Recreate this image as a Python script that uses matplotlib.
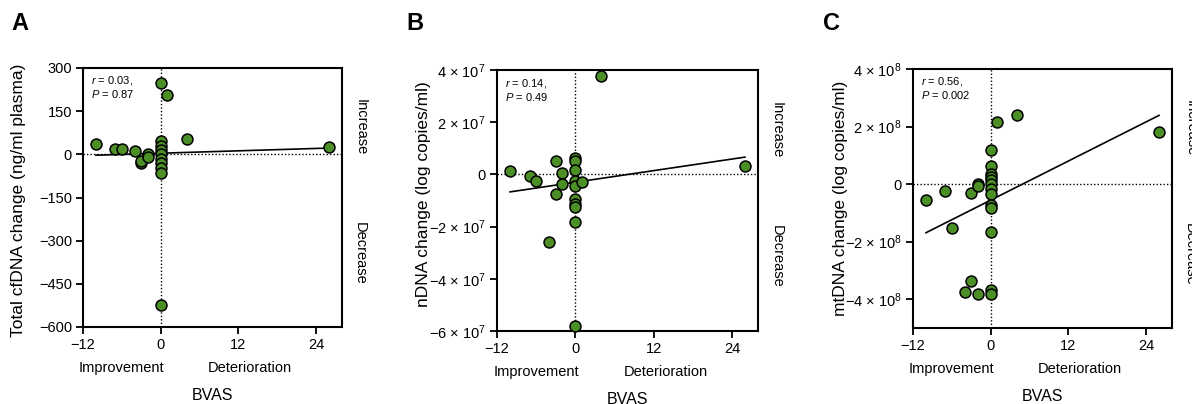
import matplotlib
matplotlib.use("Agg")
import matplotlib.pyplot as plt
import numpy as np
from matplotlib.ticker import FixedLocator, FuncFormatter

plt.rcParams['font.family'] = ['Liberation Sans', 'DejaVu Sans']
plt.rcParams['mathtext.fontset'] = 'custom'
plt.rcParams['mathtext.rm'] = 'Liberation Sans'
plt.rcParams['mathtext.it'] = 'Liberation Sans:italic'

# BVAS change and DNA change per patient
bvas_a = [-10, -7, -6, -4, -3, -3, -2, -2, 0, 0, 0, 0, 0, 0, 0, 0, 0, 0, 1, 4, 26]
cfdna = [37, 17, 20, 12, -30, -22, 0, -10, 248, 47, 29, 15, 0, -16, -31, -46, -66, -525, 206, 53, 25]

bvas_b = [-10, -7, -6, -4, -3, -3, -2, -2, 0, 0, 0, 0, 0, 0, 0, 0, 0, 0, 1, 4, 26]
ndna = [1.2e6, -0.5e6, -2.7e6, -26e6, 5.3e6, -7.4e6, 0.5e6, -3.5e6,
        6.2e6, 5.0e6, 1.6e6, -2.5e6, -4.5e6, -9.3e6, -11.5e6, -12.3e6, -18.2e6, -58e6,
        -3.1e6, 37.7e6, 3.1e6]

bvas_c = [-10, -7, -6, -4, -3, -3, -2, -2, -2, 0, 0, 0, 0, 0, 0, 0, 0, 0, 0, 0, 0, 0, 1, 4, 26]
mtdna = [-5.4e7, -2.5e7, -1.53e8, -3.76e8, -3.1e7, -3.37e8, 0, -0.8e7, -3.81e8,
         1.2e8, 6.4e7, 3.6e7, 2.4e7, 1.3e7, 0, -1.6e7, -3.5e7, -7.4e7, -8.2e7, -1.66e8, -3.67e8, -3.82e8,
         2.15e8, 2.41e8, 1.81e8]

# linear fit lines as drawn (slope, intercept)
fit_a = (0.69, 3.9)
fit_b = (0.37e6, -3.0e6)
fit_c = (1.133e7, -0.557e8)

stats_a = ('0.03', '0.87')
stats_b = ('0.14', '0.49')
stats_c = ('0.56', '0.002')

yticks_a = [300, 150, 0, -150, -300, -450, -600]
yticks_b = [4e7, 2e7, 0, -2e7, -4e7, -6e7]
yticks_c = [4e8, 2e8, 0, -2e8, -4e8]
xticks = [-12, 0, 12, 24]

green = '#4b8f26'


def sci_fmt(exp):
    def f(v, pos):
        if v == 0:
            return '0'
        m = v / 10 ** exp
        sign = '\u2212' if m < 0 else ''
        return f'{sign}{abs(m):.0f} \u00d7 10$^{{{exp}}}$'
    return f


def plain_fmt(v, pos):
    return f'{v:.0f}'.replace('-', '\u2212')


fig = plt.figure(figsize=(11.92, 4.04), dpi=100)

panels = [
    ([83 / 1192, 77 / 404, 259 / 1192, 259 / 404], bvas_a, cfdna, fit_a, stats_a, yticks_a, (-600, 300),
     plain_fmt, 'Total cfDNA change (ng/ml plasma)', (-0.22, 0.49), 'A', 20),
    ([497 / 1192, 73 / 404, 261 / 1192, 261 / 404], bvas_b, ndna, fit_b, stats_b, yticks_b, (-6e7, 4e7),
     sci_fmt(7), 'nDNA change (log copies/ml)', (-0.253, 0.525), 'B', 415),
    ([913 / 1192, 76 / 404, 259 / 1192, 259 / 404], bvas_c, mtdna, fit_c, stats_c, yticks_c, (-5e8, 4e8),
     sci_fmt(8), 'mtDNA change (log copies/ml)', (-0.251, 0.50), 'C', 832),
]

for rect, xs, ys, fit, stats, yt, ylim, fmt, ylab, ylab_pos, letter, lx in panels:
    ax = fig.add_axes(rect)
    ax.set_xlim(-12, 28)
    ax.set_ylim(*ylim)
    ax.axhline(0, color='black', ls=(0, (1, 1.5)), lw=1, zorder=1)
    ax.axvline(0, color='black', ls=(0, (1, 1.5)), lw=1, zorder=1)

    xx = np.array([min(xs), max(xs)])
    ax.plot(xx, fit[0] * xx + fit[1], color='black', lw=1.2, zorder=2)
    ax.scatter(xs, ys, s=62, facecolor=green, edgecolor='black', linewidth=1.1, zorder=3, clip_on=False)

    ax.xaxis.set_major_locator(FixedLocator(xticks))
    ax.xaxis.set_major_formatter(FuncFormatter(plain_fmt))
    ax.yaxis.set_major_locator(FixedLocator(yt))
    ax.yaxis.set_major_formatter(FuncFormatter(fmt))
    ax.tick_params(direction='out', length=5, width=1.3, labelsize=10.5, pad=3)
    for sp in ax.spines.values():
        sp.set_linewidth(1.5)

    ax.set_xlabel('BVAS', fontsize=11.5, labelpad=26)
    ax.set_ylabel(ylab, fontsize=12.5)
    ax.yaxis.set_label_coords(*ylab_pos)

    tr = ax.get_xaxis_transform()
    ax.text(-6, -0.158, 'Improvement', transform=tr, ha='center', va='center', fontsize=10.5)
    ax.text(13.8, -0.158, 'Deterioration', transform=tr, ha='center', va='center', fontsize=10.5)

    ax.text(1.07, 0.77, 'Increase', transform=ax.transAxes, rotation=270,
            ha='center', va='center', fontsize=10.5)
    ax.text(1.07, 0.285, 'Decrease', transform=ax.transAxes, rotation=270,
            ha='center', va='center', fontsize=10.5)

    ax.text(0.03, 0.975, f'$\\it{{r}}$ = {stats[0]},\n$\\it{{P}}$ = {stats[1]}', transform=ax.transAxes,
            ha='left', va='top', fontsize=8, linespacing=1.1)

    fig.text(lx / 1192, 1 - 23 / 404, letter, fontsize=17, fontweight='bold', ha='center', va='center')

fig.savefig('out.png', dpi=100)
